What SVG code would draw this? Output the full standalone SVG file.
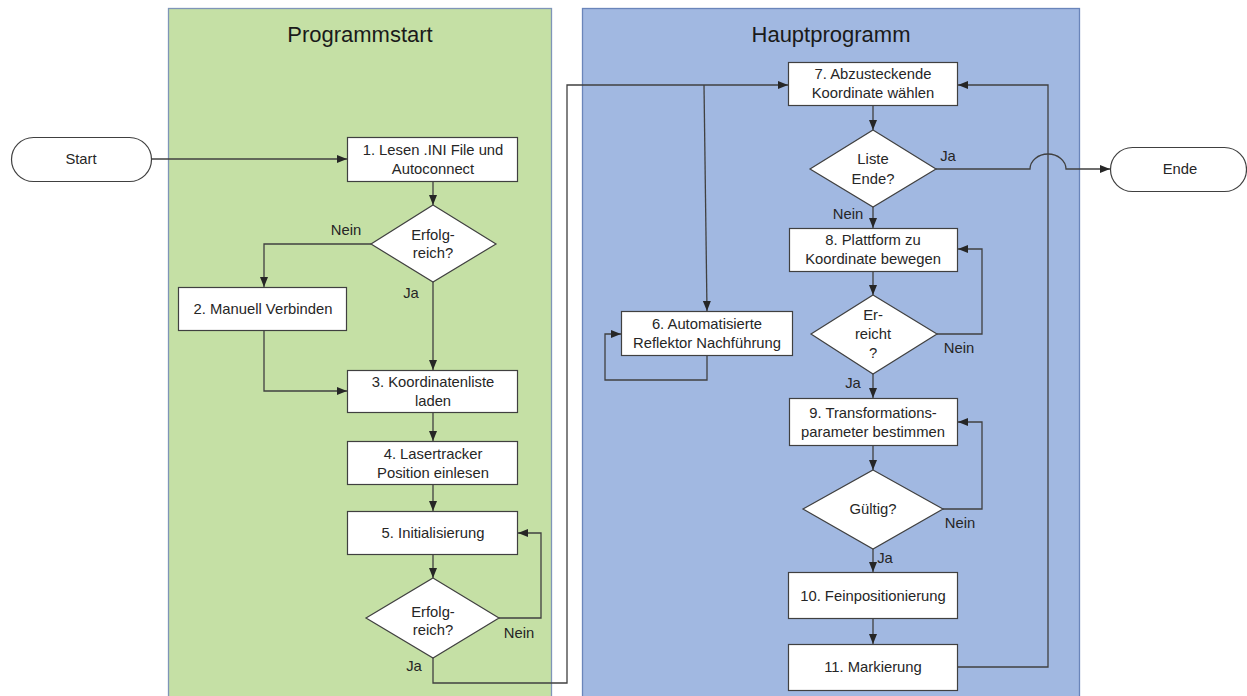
<svg xmlns="http://www.w3.org/2000/svg" width="1247" height="696" viewBox="0 0 1247 696">
<defs>
<style>
.lane-g{fill:#C5E0A5;stroke:#7F95B8;stroke-width:1.3}
.lane-b{fill:#A1B8E1;stroke:#6A85BA;stroke-width:1.3}
.title{font-family:"Liberation Sans",Arial,sans-serif;font-size:22px;fill:#1a1a1a;text-anchor:middle}
.box{fill:#ffffff;stroke:#404040;stroke-width:1.2}
.t{font-family:"Liberation Sans",Arial,sans-serif;font-size:14.8px;fill:#262626;text-anchor:middle}
.lbl{font-family:"Liberation Sans",Arial,sans-serif;font-size:14.8px;fill:#262626;text-anchor:middle}
.c{fill:none;stroke:#404040;stroke-width:1.3}
.ca{fill:none;stroke:#404040;stroke-width:1.3;marker-end:url(#arr)}
</style>
<marker id="arr" markerUnits="userSpaceOnUse" markerWidth="10" markerHeight="10" viewBox="0 0 10 10" refX="10" refY="5" orient="auto">
<path d="M0,1 L10,5 L0,9 z" fill="#262626"/>
</marker>
</defs>
<rect width="1247" height="696" fill="#ffffff"/>
<g id="lane-programmstart">
<rect class="lane-g" x="168.5" y="8.5" width="383" height="700"/>
<text class="title" x="360" y="42">Programmstart</text>
</g>
<g id="lane-hauptprogramm">
<rect class="lane-b" x="582.5" y="8.5" width="497" height="700"/>
<text class="title" x="831" y="42">Hauptprogramm</text>
</g>
<g id="connectors">
<path class="ca" d="M152,159 L347,159"/>
<path class="ca" d="M433,182 L433,205"/>
<path class="ca" d="M371,244 L264,244 L264,287"/>
<path class="ca" d="M433,282 L433,370"/>
<path class="ca" d="M264,331 L264,391 L347,391"/>
<path class="ca" d="M433,413 L433,441"/>
<path class="ca" d="M433,485 L433,511"/>
<path class="ca" d="M433,554 L433,578"/>
<path class="ca" d="M499,618 L541,618 L541,533 L518,533"/>
<path class="ca" d="M433,658 L433,683 L567,683 L567,85 L788,85"/>
<path class="ca" d="M704,85 L707,311"/>
<path class="ca" d="M707,356 L707,380 L605,380 L605,334 L621,334"/>
<path class="ca" d="M873,106 L873,130"/>
<path class="ca" d="M936,169 L1030,169 A18,15 0 0 1 1066,169 L1110,169"/>
<path class="ca" d="M873,207 L873,228"/>
<path class="ca" d="M873,272 L873,295"/>
<path class="ca" d="M937,334 L982,334 L982,249 L958,249"/>
<path class="ca" d="M873,374 L873,398"/>
<path class="ca" d="M873,446 L873,470"/>
<path class="ca" d="M943,509 L982,509 L982,422 L958,422"/>
<path class="ca" d="M873,549 L873,572"/>
<path class="ca" d="M873,619 L873,644"/>
<path class="ca" d="M958,667 L1048,667 L1048,85 L958,85"/>
</g>
<g id="labels">
<text class="lbl" x="346" y="235">Nein</text>
<text class="lbl" x="411" y="298">Ja</text>
<text class="lbl" x="519" y="638">Nein</text>
<text class="lbl" x="414" y="671">Ja</text>
<text class="lbl" x="948" y="161">Ja</text>
<text class="lbl" x="848" y="219">Nein</text>
<text class="lbl" x="959" y="353">Nein</text>
<text class="lbl" x="853" y="388">Ja</text>
<text class="lbl" x="960" y="528">Nein</text>
<text class="lbl" x="885" y="563">Ja</text>
</g>
<g id="start">
<rect class="box" x="11.5" y="137.5" width="140" height="44" rx="22" ry="22"/>
<text class="t" x="81" y="164">Start</text>
</g>
<g id="ende">
<rect class="box" x="1110.5" y="147.5" width="136" height="44" rx="22" ry="22"/>
<text class="t" x="1180" y="174">Ende</text>
</g>
<g id="n1">
<rect class="box" x="347.5" y="137.5" width="170" height="44"/>
<text class="t" x="433" y="155">1. Lesen .INI File und</text>
<text class="t" x="433" y="174">Autoconnect</text>
</g>
<g id="d1">
<polygon class="box" points="433,205 496,244 433,282 371,244"/>
<text class="t" x="433" y="240">Erfolg-</text>
<text class="t" x="433" y="258">reich?</text>
</g>
<g id="n2">
<rect class="box" x="178.5" y="287.5" width="168" height="43"/>
<text class="t" x="263" y="314">2. Manuell Verbinden</text>
</g>
<g id="n3">
<rect class="box" x="347.5" y="370.5" width="170" height="42"/>
<text class="t" x="433" y="387">3. Koordinatenliste</text>
<text class="t" x="433" y="406">laden</text>
</g>
<g id="n4">
<rect class="box" x="347.5" y="441.5" width="170" height="43"/>
<text class="t" x="433" y="459">4. Lasertracker</text>
<text class="t" x="433" y="478">Position einlesen</text>
</g>
<g id="n5">
<rect class="box" x="347.5" y="511.5" width="170" height="43"/>
<text class="t" x="433" y="538">5. Initialisierung</text>
</g>
<g id="d2">
<polygon class="box" points="433,578 499,618 433,658 366,618"/>
<text class="t" x="433" y="617">Erfolg-</text>
<text class="t" x="433" y="635">reich?</text>
</g>
<g id="n6">
<rect class="box" x="621.5" y="311.5" width="171" height="44"/>
<text class="t" x="707" y="329">6. Automatisierte</text>
<text class="t" x="707" y="348">Reflektor Nachführung</text>
</g>
<g id="n7">
<rect class="box" x="788.5" y="62.5" width="169" height="43"/>
<text class="t" x="873" y="79">7. Abzusteckende</text>
<text class="t" x="873" y="98">Koordinate wählen</text>
</g>
<g id="d3">
<polygon class="box" points="873,130 936,169 873,207 810,169"/>
<text class="t" x="873" y="164">Liste</text>
<text class="t" x="873" y="184">Ende?</text>
</g>
<g id="n8">
<rect class="box" x="789.5" y="228.5" width="168" height="43"/>
<text class="t" x="873" y="245">8. Plattform zu</text>
<text class="t" x="873" y="264">Koordinate bewegen</text>
</g>
<g id="d4">
<polygon class="box" points="873,295 937,334 873,374 811,334"/>
<text class="t" x="873" y="320">Er-</text>
<text class="t" x="873" y="339">reicht</text>
<text class="t" x="873" y="358">?</text>
</g>
<g id="n9">
<rect class="box" x="789.5" y="398.5" width="168" height="47"/>
<text class="t" x="873" y="418">9. Transformations-</text>
<text class="t" x="873" y="437">parameter bestimmen</text>
</g>
<g id="d5">
<polygon class="box" points="873,470 943,509 873,549 803,509"/>
<text class="t" x="873" y="514">Gültig?</text>
</g>
<g id="n10">
<rect class="box" x="788.5" y="572.5" width="169" height="46"/>
<text class="t" x="873" y="601">10. Feinpositionierung</text>
</g>
<g id="n11">
<rect class="box" x="788.5" y="644.5" width="169" height="46"/>
<text class="t" x="873" y="672">11. Markierung</text>
</g>
</svg>
